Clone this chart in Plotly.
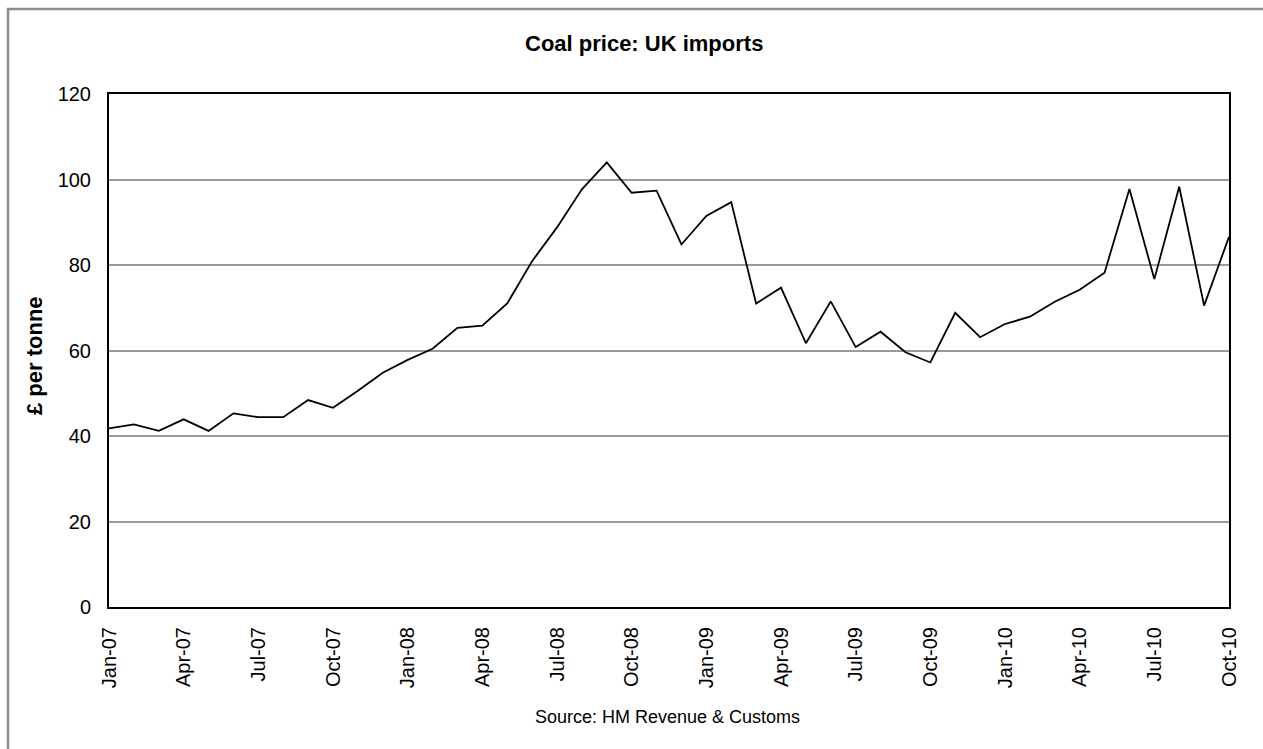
import plotly.graph_objects as go

months = []
for yr in range(7, 11):
    for m in ["Jan", "Feb", "Mar", "Apr", "May", "Jun", "Jul", "Aug", "Sep", "Oct", "Nov", "Dec"]:
        months.append(f"{m}-{yr:02d}")
months = months[:46]  # Jan-07 .. Oct-10

price = [41.8, 42.7, 41.2, 43.9, 41.2, 45.3, 44.4, 44.4, 48.4, 46.6,
         50.6, 54.8, 57.8, 60.4, 65.3, 65.8, 71.0, 80.9, 88.8, 97.7,
         104.0, 96.9, 97.4, 84.8, 91.5, 94.7, 71.0, 74.7, 61.7, 71.5,
         60.8, 64.4, 59.6, 57.2, 68.8, 63.1, 66.2, 67.9, 71.4, 74.2,
         78.2, 97.8, 76.7, 98.3, 70.5, 86.6]

tick_labels = months[::3]
y_ticks = [0, 20, 40, 60, 80, 100, 120]

fig = go.Figure()
fig.add_trace(go.Scatter(x=months, y=price, mode="lines",
                         line=dict(color="black", width=1.8), showlegend=False))

L, R, T, B = 109, 34, 94, 142
W, H = 1263, 749
pw, ph = W - L - R, H - T - B

fig.update_layout(
    width=W, height=H,
    margin=dict(l=L, r=R, t=T, b=B),
    paper_bgcolor="white", plot_bgcolor="white",
    font=dict(family="Liberation Sans, Arial, sans-serif", color="black", size=20),
    xaxis=dict(type="category", categoryorder="array", categoryarray=months,
               range=[0, 45], tickmode="array", tickvals=tick_labels, ticktext=tick_labels,
               tickangle=-90, showgrid=False, showline=True, linecolor="black",
               linewidth=2, mirror=True, ticks="", tickfont=dict(size=20),
               ticklabelstandoff=10),
    yaxis=dict(range=[0, 120], tickmode="array", tickvals=y_ticks,
               showgrid=True, gridcolor="#9a9a9a", gridwidth=1.5,
               showline=True, linecolor="black", linewidth=2, mirror=True,
               ticks="", tickfont=dict(size=20), zeroline=False,
               ticklabelstandoff=12),
    shapes=[dict(type="rect", xref="paper", yref="paper",
                 x0=(8 - L) / pw, x1=(1275 - L) / pw,
                 y0=-(760 - (T + ph)) / ph, y1=1 + (T - 9) / ph,
                 line=dict(color="#8c8c8c", width=2.5), layer="below")],
    annotations=[
        dict(text="<b>Coal price: UK imports</b>", xref="paper", yref="paper",
             x=(644 - L) / pw, y=1 + (T - 44) / ph, showarrow=False,
             xanchor="center", yanchor="middle", font=dict(size=22)),
        dict(text="<b>£ per tonne</b>", xref="paper", yref="paper",
             x=(34 - L) / pw, y=(T + ph - 356) / ph, showarrow=False, textangle=-90,
             xanchor="center", yanchor="middle", font=dict(size=22)),
        dict(text="Source: HM Revenue &amp; Customs", xref="paper", yref="paper",
             x=(667 - L) / pw, y=-(717 - (T + ph)) / ph, showarrow=False,
             xanchor="center", yanchor="middle", font=dict(size=18)),
    ],
)

fig.write_html("out.html")
